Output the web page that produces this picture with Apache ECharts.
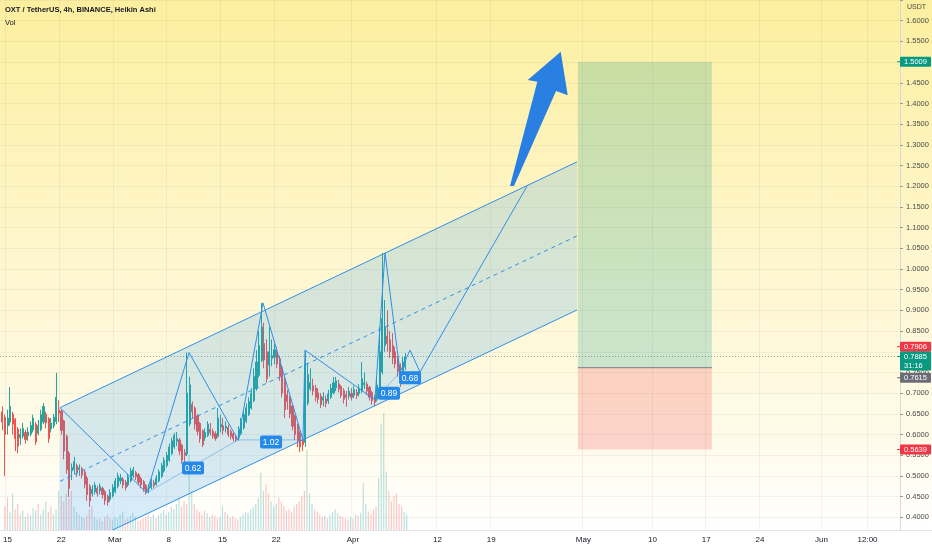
<!DOCTYPE html>
<html><head><meta charset="utf-8">
<script src="https://cdn.jsdelivr.net/npm/echarts@6/dist/echarts.min.js"></script>
<style>html,body{margin:0;padding:0;background:#fff}#c{width:932px;height:550px}</style>
</head><body><div id="c"></div>
<script>
// ---- time axis (days since 15 Feb 2021) ----
const tickDays = [0,7,14,21,28,35,45,56,63,75,84,91,98,106,112];
const tickLabels = ['15','22','Mar','8','15','22','Apr','12','19','May','10','17','24','Jun','12:00'];
const X_MIN = -0.649, X_MAX = 116.23;
const candleStartDay = -1/3, candleStepDays = 1/3;

// ---- Heikin Ashi candles [open, close, low, high] ----
const candlesA = [
[0.655,0.630,0.610,0.668],[0.642,0.600,0.500,0.648],[0.621,0.640,0.600,0.660],[0.630,0.668,0.622,0.715],
[0.649,0.625,0.600,0.655],[0.637,0.590,0.560,0.640],[0.613,0.572,0.555,0.618],[0.592,0.600,0.575,0.615],
[0.596,0.615,0.590,0.628],[0.605,0.588,0.578,0.612],[0.597,0.606,0.585,0.618],[0.601,0.622,0.596,0.632],
[0.611,0.640,0.605,0.648],[0.625,0.582,0.575,0.630],[0.603,0.622,0.598,0.635],[0.612,0.648,0.608,0.660],
[0.630,0.668,0.625,0.676],[0.649,0.628,0.615,0.655],[0.638,0.590,0.580,0.642],[0.614,0.628,0.605,0.640],
[0.621,0.642,0.615,0.650],[0.631,0.690,0.625,0.749],[0.660,0.652,0.630,0.683],[0.656,0.610,0.600,0.660],
[0.633,0.560,0.540,0.636],[0.596,0.515,0.505,0.600],[0.555,0.470,0.449,0.560],[0.512,0.520,0.490,0.530],
[0.516,0.535,0.505,0.546],[0.525,0.508,0.498,0.530],[0.516,0.520,0.500,0.528],[0.518,0.502,0.494,0.522],
[0.510,0.480,0.470,0.514],[0.495,0.455,0.440,0.500],[0.475,0.440,0.425,0.480],[0.457,0.468,0.450,0.478],
[0.462,0.478,0.455,0.485],[0.470,0.458,0.450,0.476],[0.464,0.475,0.455,0.482],[0.470,0.455,0.445,0.474],
[0.462,0.440,0.430,0.466],[0.451,0.436,0.428,0.455],[0.443,0.460,0.438,0.468],[0.452,0.472,0.448,0.480],
[0.462,0.488,0.458,0.495],[0.475,0.500,0.470,0.508],[0.488,0.495,0.480,0.505],[0.492,0.478,0.470,0.497],
[0.485,0.472,0.465,0.490],[0.478,0.498,0.474,0.505],[0.488,0.512,0.484,0.520],[0.500,0.515,0.495,0.522],
[0.508,0.498,0.490,0.512],[0.503,0.485,0.478,0.507],[0.494,0.478,0.470,0.498],[0.486,0.468,0.462,0.490],
[0.477,0.462,0.455,0.480]
];
const candlesB = [
[0.469,0.475,0.458,0.480],[0.472,0.488,0.468,0.494],[0.484,0.476,0.470,0.490],[0.480,0.495,0.476,0.502],
[0.488,0.510,0.484,0.516],[0.499,0.525,0.495,0.532],[0.512,0.538,0.508,0.545],[0.525,0.550,0.520,0.558],
[0.538,0.570,0.534,0.578],[0.554,0.585,0.550,0.592],[0.570,0.598,0.565,0.604],[0.584,0.590,0.572,0.606],
[0.587,0.560,0.550,0.592],[0.574,0.538,0.530,0.578],[0.556,0.550,0.528,0.565],[0.553,0.700,0.548,0.798],
[0.626,0.720,0.620,0.740],[0.673,0.655,0.640,0.680],[0.664,0.625,0.612,0.668],[0.645,0.608,0.598,0.650],
[0.627,0.590,0.580,0.630],[0.609,0.575,0.570,0.612],[0.592,0.605,0.585,0.615],[0.598,0.625,0.594,0.632],
[0.612,0.605,0.598,0.628],[0.608,0.596,0.590,0.614],[0.602,0.590,0.585,0.608],[0.596,0.640,0.592,0.664],
[0.618,0.625,0.605,0.648],[0.621,0.610,0.600,0.640],[0.615,0.620,0.605,0.632],[0.617,0.600,0.594,0.624],
[0.608,0.596,0.588,0.612],[0.602,0.590,0.584,0.606],[0.596,0.588,0.582,0.600],[0.592,0.612,0.585,0.620],
[0.602,0.630,0.598,0.640],[0.616,0.648,0.612,0.655],[0.632,0.665,0.628,0.675],[0.648,0.680,0.645,0.690],
[0.664,0.700,0.660,0.712],[0.682,0.740,0.678,0.760],[0.711,0.775,0.706,0.804],[0.743,0.815,0.738,0.850],
[0.779,0.860,0.775,0.918],[0.820,0.780,0.760,0.870],[0.800,0.735,0.725,0.830],[0.768,0.800,0.740,0.860],
[0.784,0.790,0.765,0.830],[0.787,0.805,0.770,0.820],[0.796,0.770,0.760,0.812],[0.783,0.740,0.730,0.790],
[0.762,0.700,0.690,0.768],[0.731,0.660,0.640,0.740],[0.696,0.680,0.660,0.708],[0.688,0.650,0.640,0.694],
[0.669,0.620,0.610,0.672],[0.645,0.600,0.587,0.648],[0.622,0.585,0.570,0.626],[0.604,0.570,0.558,0.608],
[0.587,0.575,0.560,0.595]
];
const candlesC = [
[0.581,0.770,0.570,0.804],[0.676,0.745,0.670,0.773],[0.711,0.725,0.705,0.760],[0.718,0.705,0.695,0.735],
[0.712,0.690,0.680,0.720],[0.701,0.685,0.675,0.712],[0.693,0.672,0.664,0.700],[0.683,0.690,0.668,0.702],
[0.686,0.675,0.666,0.694],[0.681,0.698,0.674,0.708],[0.690,0.712,0.686,0.722],[0.701,0.725,0.697,0.739],
[0.713,0.730,0.705,0.739],[0.722,0.710,0.702,0.732],[0.716,0.695,0.688,0.720],[0.706,0.685,0.675,0.712],
[0.696,0.690,0.667,0.705],[0.693,0.705,0.685,0.715],[0.699,0.690,0.682,0.712],[0.695,0.708,0.688,0.718],
[0.702,0.695,0.686,0.710],[0.699,0.712,0.692,0.722],[0.705,0.735,0.700,0.775],[0.720,0.725,0.710,0.750],
[0.722,0.705,0.695,0.728],[0.714,0.690,0.682,0.718],[0.702,0.682,0.672,0.705],[0.692,0.678,0.668,0.696],
[0.685,0.720,0.680,0.740],[0.702,0.800,0.698,0.860],[0.751,0.880,0.745,1.039],[0.815,0.860,0.800,0.925],
[0.838,0.820,0.800,0.900],[0.829,0.800,0.785,0.850],[0.815,0.785,0.770,0.845],[0.800,0.770,0.760,0.812],
[0.785,0.752,0.740,0.790],[0.768,0.735,0.715,0.772],[0.752,0.775,0.745,0.787],[0.763,0.788,0.756,0.797]
];
// ---- volume ----
const volA = [18,25,14,28,16,20,12,15,10,13,11,17,15,20,12,16,22,14,18,12,16,30,
26,22,28,24,30,18,14,12,10,9,11,16,18,10,8,9,7,10,12,9,8,10,9,12,14,8,9,11,13,10,7,8,9,10,12];
const volB = [10,12,9,11,13,15,12,14,18,16,20,24,18,22,20,58,30,
20,16,14,12,15,13,10,12,11,9,10,18,14,12,10,11,9,8,10,12,14,13,16,18,20,25,
44,30,35,28,22,18,20,25,22,18,15,16,14,18,20,22,26,30];
const volC = [62,28,20,16,14,12,10,11,9,12,14,16,13,11,10,9,8,10,9,12,11,13,36,20,14,12,16,18,
40,82,90,45,30,22,26,28,20,18,14,12];

// ---- drawings (day, price) ----
const channelDays = [7.14, 74.29];
const channelUpper = [0.665, 1.259];
const channelLower = [0.309, 0.901];
const channelMid = [0.487, 1.080];
const zigDays   = [7.14, 18.40, 23.90, 30.26, 33.51, 38.70, 38.96, 48.05, 49.35, 51.30, 52.60, 53.90, 67.79];
const zigPrices = [0.665, 0.459, 0.798, 0.587, 0.918, 0.587, 0.804, 0.684, 1.039, 0.751, 0.804, 0.751, 1.200];
const ratioLinks = [[1,3],[3,5],[7,9],[9,11]];
const ratioTexts = ['0.62','1.02','0.89','0.68'];
const ratioDays = [24.42, 34.55, 49.87, 52.60];
const ratioPrices = [0.519, 0.582, 0.700, 0.737];
const arrowDays   = [72.17, 67.88, 69.13, 65.58, 66.10, 71.56, 73.08];
const arrowPrices = [1.525, 1.4565, 1.4524, 1.2005, 1.2005, 1.430, 1.420];
const positionDays = [74.4, 91.8];
const targetPrice = 1.5009, entryPrice = 0.7615, stopPrice = 0.5639;
const lastPrice = 0.7885;
const badgePrices = [1.5009, 0.7906, 0.7885, 0.7615, 0.5639];
const badgeTexts = ['1.5009', '0.7906', '0.7885\n31:16', '0.7615', '0.5639'];

// ---- styles ----
const badgeStyle = [
  {bg:'#089981', dy:0, h:10}, {bg:'#f23645', dy:-9, h:10}, {bg:'#089981', dy:0, h:19},
  {bg:'#6a6d78', dy:10, h:10}, {bg:'#f23645', dy:0, h:10}];
const UP = '#26a69a', DOWN = '#ef5350', LINE = '#2f8fe6';
const FONT = 'Liberation Sans';

const candles = candlesA.concat(candlesB, candlesC);
const volumes = volA.concat(volB, volC);
const dayOf = i => candleStartDay + i * candleStepDays;
const candleData = candles.map((c, i) => [dayOf(i), c[0], c[1], c[2], c[3]]);
const volData = volumes.map((v, i) => ({
  value: [dayOf(i), v],
  itemStyle: {color: candles[i][1] >= candles[i][0] ? 'rgba(38,166,154,0.32)' : 'rgba(239,83,80,0.32)'}
}));

const chart = echarts.init(document.getElementById('c'), null, {renderer: 'canvas'});

function renderChannel(params, api) {
  const u0 = api.coord([channelDays[0], channelUpper[0]]), u1 = api.coord([channelDays[1], channelUpper[1]]);
  const l0 = api.coord([channelDays[0], channelLower[0]]), l1 = api.coord([channelDays[1], channelLower[1]]);
  const m0 = api.coord([channelDays[0], channelMid[0]]), m1 = api.coord([channelDays[1], channelMid[1]]);
  return {type: 'group', children: [
    {type: 'polygon', shape: {points: [u0, u1, l1, l0]}, style: {fill: 'rgba(33,150,243,0.18)'}},
    {type: 'line', shape: {x1: u0[0], y1: u0[1], x2: u1[0], y2: u1[1]}, style: {stroke: LINE, lineWidth: 1}},
    {type: 'line', shape: {x1: l0[0], y1: l0[1], x2: l1[0], y2: l1[1]}, style: {stroke: LINE, lineWidth: 1}},
    {type: 'line', shape: {x1: m0[0], y1: m0[1], x2: m1[0], y2: m1[1]}, style: {stroke: LINE, lineWidth: 1, lineDash: [4, 4]}}
  ]};
}
function renderZig(params, api) {
  const pts = zigDays.map((d, i) => api.coord([d, zigPrices[i]]));
  const children = [];
  ratioLinks.forEach(l => {
    children.push({type: 'line', shape: {x1: pts[l[0]][0], y1: pts[l[0]][1], x2: pts[l[1]][0], y2: pts[l[1]][1]},
      style: {stroke: 'rgba(47,143,230,0.45)', lineWidth: 1}});
  });
  children.push({type: 'polyline', shape: {points: pts}, style: {stroke: LINE, lineWidth: 1, fill: null}});
  ratioTexts.forEach((t, i) => {
    const c = api.coord([ratioDays[i], ratioPrices[i]]);
    children.push({type: 'rect', shape: {x: c[0] - 11, y: c[1] - 6.5, width: 22, height: 13, r: 2}, style: {fill: '#2589ea'}});
    children.push({type: 'text', style: {text: t, x: c[0], y: c[1] + 0.5, align: 'center', verticalAlign: 'middle',
      fill: '#fff', font: '8.5px "' + FONT + '"'}});
  });
  return {type: 'group', children};
}
function renderArrow(params, api) {
  const pts = arrowDays.map((d, i) => api.coord([d, arrowPrices[i]]));
  return {type: 'polygon', shape: {points: pts}, style: {fill: '#2a80e2'}};
}
function renderPosition(params, api) {
  const a = api.coord([positionDays[0], targetPrice]), b = api.coord([positionDays[1], entryPrice]);
  const c = api.coord([positionDays[1], stopPrice]);
  return {type: 'group', children: [
    {type: 'rect', shape: {x: a[0], y: a[1], width: b[0] - a[0], height: b[1] - a[1]}, style: {fill: 'rgba(0,150,136,0.2)'}},
    {type: 'rect', shape: {x: a[0], y: b[1], width: b[0] - a[0], height: c[1] - b[1]}, style: {fill: 'rgba(242,54,69,0.2)'}},
    {type: 'line', shape: {x1: a[0], y1: b[1], x2: b[0], y2: b[1]}, style: {stroke: '#787b86', lineWidth: 1}}
  ]};
}
function renderBadge(params, api) {
  const i = api.value(2);
  const s = badgeStyle[i];
  const c = api.coord([api.value(0), api.value(1)]);
  const y = c[1] + s.dy;
  const top = y - 5;
  return {type: 'group', children: [
    {type: 'line', shape: {x1: c[0] - 3, y1: y, x2: c[0], y2: y}, style: {stroke: s.bg, lineWidth: 1}},
    {type: 'rect', shape: {x: c[0], y: top, width: 31, height: s.h, r: 1}, style: {fill: s.bg}},
    {type: 'text', style: {text: badgeTexts[i], x: c[0] + 4, y: top + 1, verticalAlign: 'top', lineHeight: 9,
      fill: '#fff', font: '7.5px "' + FONT + '"'}}
  ]};
}

const axisFont = {fontFamily: FONT, fontSize: 7.5, color: '#4a4a4a'};

chart.setOption({
  animation: false,
  backgroundColor: {type: 'linear', x: 0, y: 0, x2: 0, y2: 1, colorStops: [
    {offset: 0, color: '#fdef9f'}, {offset: 0.45, color: '#fef6cc'}, {offset: 0.8, color: '#fffbea'}, {offset: 0.96, color: '#ffffff'}, {offset: 1, color: '#ffffff'}]},
  title: [
    {text: 'OXT / TetherUS, 4h, BINANCE, Heikin Ashi', subtext: 'Vol', left: 5, top: 6, itemGap: 5, padding: 0,
      textStyle: {fontFamily: FONT, fontSize: 7.5, fontWeight: 'bold', color: '#131722'},
      subtextStyle: {fontFamily: FONT, fontSize: 7.5, color: '#131722'}},
    {text: 'USDT', right: 6, top: 4, padding: 0, textStyle: {fontFamily: FONT, fontSize: 7, fontWeight: 'normal', color: '#4a4a4a'}}
  ],
  grid: [
    {left: 0, right: 32, top: 0, bottom: 12},
    {left: 0, right: 32, top: 400, bottom: 20}
  ],
  xAxis: [
    {type: 'value', gridIndex: 0, min: X_MIN, max: X_MAX, show: false, splitLine: {show: false}},
    {type: 'value', gridIndex: 1, min: X_MIN, max: X_MAX, z: 60,
      axisLine: {show: false, onZero: false}, axisTick: {show: false}, splitLine: {show: false},
      axisLabel: {customValues: tickDays, margin: 6, fontFamily: FONT, fontSize: 8, color: '#131722',
        formatter: v => { const k = tickDays.findIndex(d => Math.abs(d - v) < 1e-6); return k < 0 ? '' : tickLabels[k]; }}}
  ],
  yAxis: [
    {type: 'value', gridIndex: 0, position: 'right', min: 0.35, max: 1.65, interval: 0.05,
      axisLine: {show: true, onZero: false, lineStyle: {color: '#d9d9d9'}},
      axisTick: {show: true, length: 3, lineStyle: {color: '#9a9a9a'}},
      axisLabel: Object.assign({margin: 6, formatter: v => (v < 0.37 || v > 1.62) ? '' : v.toFixed(4)}, axisFont),
      splitLine: {show: true, lineStyle: {color: 'rgba(120,120,120,0.09)', width: 1}}},
    {type: 'value', gridIndex: 1, min: 0, max: 100, show: false, axisLine: {onZero: false}}
  ],
  graphic: [
    {type: 'rect', shape: {x: 0, y: 530, width: 932, height: 20}, style: {fill: '#ffffff'}, z: 50},
    {type: 'line', shape: {x1: 0, y1: 530.5, x2: 932, y2: 530.5}, style: {stroke: '#e4e4e4', lineWidth: 1}, z: 51}
  ],
  series: [
    {type: 'line', xAxisIndex: 0, yAxisIndex: 0, data: [], z: 1,
      markLine: {silent: true, symbol: ['none', 'none'], label: {show: false}, animation: false,
        data: tickDays.map(d => ({xAxis: d, lineStyle: {color: 'rgba(120,120,120,0.09)', width: 1, type: 'solid'}}))
          .concat([{yAxis: lastPrice, lineStyle: {color: 'rgba(80,80,80,0.55)', width: 1, type: [1, 2]}}])}},
    {type: 'bar', xAxisIndex: 1, yAxisIndex: 1, data: volData, barWidth: 1.2, z: 2},
    {type: 'candlestick', xAxisIndex: 0, yAxisIndex: 0, data: candleData, encode: {x: 0, y: [1, 2, 3, 4]},
      barWidth: 1.6, z: 3,
      itemStyle: {color: UP, color0: DOWN, borderColor: UP, borderColor0: DOWN, borderWidth: 1}},
    {type: 'custom', xAxisIndex: 0, yAxisIndex: 0, data: [[0, 1]], renderItem: renderChannel, clip: true, z: 5, silent: true},
    {type: 'custom', xAxisIndex: 0, yAxisIndex: 0, data: [[0, 1]], renderItem: renderPosition, clip: true, z: 5, silent: true},
    {type: 'custom', xAxisIndex: 0, yAxisIndex: 0, data: [[0, 1]], renderItem: renderZig, clip: false, z: 6, silent: true},
    {type: 'custom', xAxisIndex: 0, yAxisIndex: 0, data: [[0, 1]], renderItem: renderArrow, clip: false, z: 6, silent: true},
    {type: 'custom', xAxisIndex: 0, yAxisIndex: 0, data: badgePrices.map((p, i) => [X_MAX, p, i]),
      renderItem: renderBadge, clip: false, z: 20, silent: true}
  ]
});
</script>
</body></html>
